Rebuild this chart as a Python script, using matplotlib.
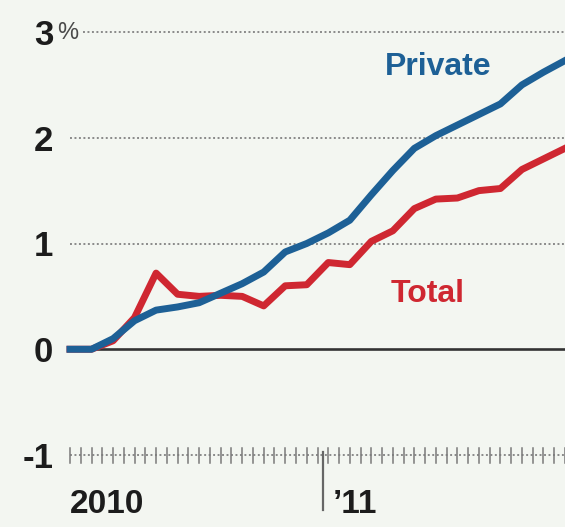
import numpy as np
import matplotlib.pyplot as plt

# monthly % change in payrolls since Jan 2010 (Jan 2010 .. Dec 2011)
months = np.arange(24)
private = [0.0, 0.0, 0.1, 0.27, 0.37, 0.4, 0.44, 0.53, 0.62, 0.73, 0.92, 1.0,
           1.1, 1.22, 1.46, 1.69, 1.9, 2.02, 2.12, 2.22, 2.32, 2.5, 2.62, 2.73]
total = [0.0, 0.0, 0.08, 0.3, 0.72, 0.52, 0.5, 0.51, 0.5, 0.41, 0.6, 0.61,
         0.82, 0.8, 1.02, 1.12, 1.33, 1.42, 1.43, 1.5, 1.52, 1.7, 1.8, 1.9]
yticks = [-1, 0, 1, 2, 3]
ytick_labels = ["-1", "0", "1", "2", "3"]
year_labels = ["2010", "\u201911"]
year_split = 11.76

bg = "#f3f6f1"
blue = "#1d6096"
red = "#cf2731"
ink = "#1c1c1c"
font = ["Liberation Sans", "DejaVu Sans"]

fig = plt.figure(figsize=(5.65, 5.27), dpi=100, facecolor=bg)
ax = fig.add_axes([70 / 565, (527 - 455) / 527, 495 / 565, 423 / 527])
ax.set_facecolor(bg)
ax.set_xlim(0, 23)
ax.set_ylim(-1, 3)
for s in ax.spines.values():
    s.set_visible(False)
ax.set_xticks([])
ax.set_yticks(yticks)
ax.set_yticklabels(ytick_labels, fontfamily=font, fontweight="bold",
                   fontsize=25, color=ink)
ax.tick_params(axis="y", length=0, pad=12)

# dotted gridlines; the top one starts after the percent sign
grid_start = {-1: 0.0, 1: 0.0, 2: 0.0, 3: 0.6}
for y, x0 in grid_start.items():
    ax.plot([x0, 23], [y, y], color="#8a8a8a", lw=1.4, ls=(0, (1, 1.3)),
            zorder=1, clip_on=False)
ax.axhline(0, color="#333333", lw=1.9, zorder=2)

# percent sign after the top label
ax.text(-0.6, 2.99, "%", fontfamily=font, fontsize=17, color="#4a4a4a",
        ha="left", va="center", zorder=3, clip_on=False)

ax.plot(months, total, color=red, lw=5, solid_joinstyle="round", zorder=4,
        clip_on=False)
ax.plot(months, private, color=blue, lw=5, solid_joinstyle="round", zorder=5,
        clip_on=False)

# half-month ticks along the bottom
for x in np.arange(0, 23.01, 0.5):
    ax.plot([x, x], [-0.93, -1.08], color="#7a7a7a", lw=1.1, clip_on=False)
ax.plot([year_split, year_split], [-0.97, -1.52], color="#666666", lw=1.6,
        clip_on=False)

ax.text(0, -1.47, year_labels[0], fontfamily=font, fontweight="bold",
        fontsize=24, color=ink, ha="left", va="center", clip_on=False)
ax.text(12.2, -1.47, year_labels[1], fontfamily=font, fontweight="bold",
        fontsize=24, color=ink, ha="left", va="center", clip_on=False)

ax.text(17.1, 2.67, "Private", fontfamily=font, fontweight="bold",
        fontsize=23, color=blue, ha="center", va="center")
ax.text(16.6, 0.52, "Total", fontfamily=font, fontweight="bold",
        fontsize=23, color=red, ha="center", va="center")

fig.savefig("out.png", dpi=100, facecolor=bg)
